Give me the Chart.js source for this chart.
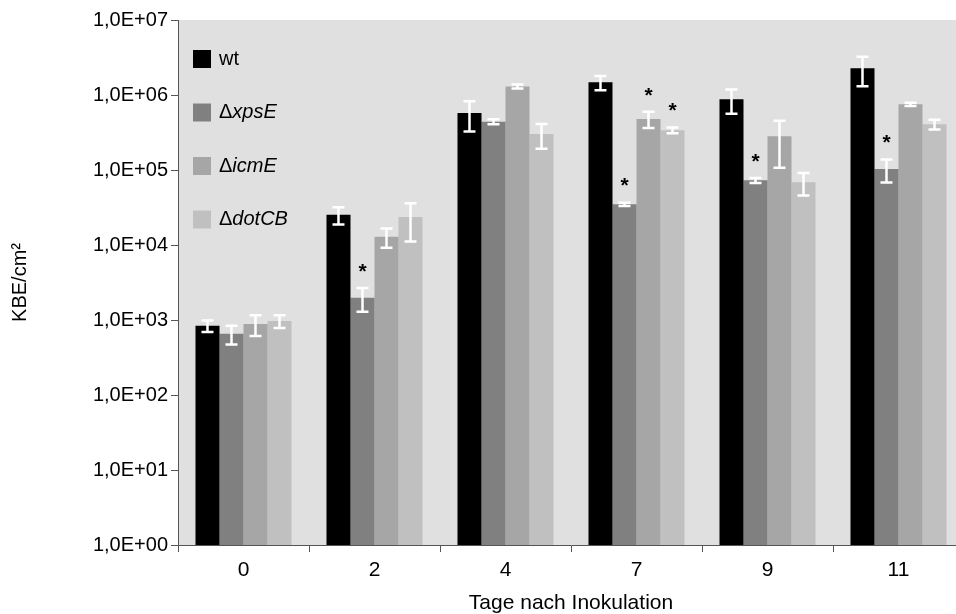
<!DOCTYPE html>
<html>
<head>
<meta charset="utf-8">
<script src="https://cdn.jsdelivr.net/npm/chart.js@4"></script>
<style>
  html, body { margin: 0; padding: 0; background: #fff; overflow: hidden; }
  #wrap { width: 956px; height: 614px; overflow: hidden; }
</style>
</head>
<body>
<div id="wrap"><canvas id="chart" width="968" height="614"></canvas></div>
<script>
// Days after inoculation
const days = ["0", "2", "4", "7", "9", "11"];
const seriesNames = ["wt", "ΔxpsE", "ΔicmE", "ΔdotCB"];
const seriesColors = ["#000000", "#808080", "#a6a6a6", "#c0c0c0"];

// Mean KBE/cm² per series
const wt    = [840, 25350, 575000, 1476000, 875000, 2270000];
const xpsE  = [656, 1983, 440000, 34870, 72800, 103000];
const icmE  = [885, 12900, 1300000, 479000, 281000, 752000];
const dotCB = [970, 23600, 302000, 338000, 68500, 407000];

// Standard deviations
const wtSd    = [147, 6530, 250000, 315000, 312000, 957000];
const xpsESd  = [185, 695, 33500, 1850, 5600, 34700];
const icmESd  = [275, 3685, 80000, 117000, 174000, 39000];
const dotCBSd = [190, 12500, 110000, 30000, 22800, 59500];

// Significance markers (*)
const wtSig    = [false, false, false, false, false, false];
const xpsESig  = [false, true, false, true, true, true];
const icmESig  = [false, false, false, true, false, false];
const dotCBSig = [false, false, false, true, false, false];

const yTicks = [1, 10, 100, 1000, 10000, 100000, 1000000, 10000000];

const means = [wt, xpsE, icmE, dotCB];
const sds = [wtSd, xpsESd, icmESd, dotCBSd];
const sigs = [wtSig, xpsESig, icmESig, dotCBSig];

const FONT = "'Liberation Sans', Arial, sans-serif";

const plotBg = {
  id: "plotBg",
  beforeDraw(chart) {
    const { ctx, chartArea: a } = chart;
    ctx.save();
    ctx.fillStyle = "#e0e0e0";
    ctx.fillRect(a.left, a.top, a.right - a.left, a.bottom - a.top);
    ctx.restore();
  }
};

const errorBars = {
  id: "errorBars",
  afterDatasetsDraw(chart) {
    const { ctx } = chart;
    const y = chart.scales.y;
    ctx.save();
    means.forEach((m, i) => {
      const meta = chart.getDatasetMeta(i);
      meta.data.forEach((bar, j) => {
        const top = y.getPixelForValue(m[j] + sds[i][j]);
        const bot = y.getPixelForValue(Math.max(m[j] - sds[i][j], 1));
        ctx.strokeStyle = "#ffffff";
        ctx.lineWidth = 2.5;
        ctx.beginPath();
        ctx.moveTo(bar.x, top); ctx.lineTo(bar.x, bot);
        ctx.moveTo(bar.x - 6, top); ctx.lineTo(bar.x + 6, top);
        ctx.moveTo(bar.x - 6, bot); ctx.lineTo(bar.x + 6, bot);
        ctx.stroke();
        if (sigs[i][j]) {
          ctx.fillStyle = "#000";
          ctx.font = "bold 21px " + FONT;
          ctx.textAlign = "center";
          ctx.textBaseline = "middle";
          ctx.fillText("*", bar.x, top - 16);
        }
      });
    });
    ctx.restore();
  }
};

const insideLegend = {
  id: "insideLegend",
  afterDraw(chart) {
    const { ctx, chartArea: a } = chart;
    ctx.save();
    ctx.textBaseline = "middle";
    ctx.textAlign = "left";
    seriesNames.forEach((name, i) => {
      const cy = a.top + 39 + i * 53.5;
      ctx.fillStyle = seriesColors[i];
      ctx.fillRect(a.left + 15, cy - 9, 18, 18);
      ctx.fillStyle = "#000";
      let x = a.left + 41;
      if (name.startsWith("Δ")) {
        ctx.font = "20px " + FONT;
        ctx.fillText("Δ", x, cy);
        x += ctx.measureText("Δ").width;
        ctx.font = "italic 20px " + FONT;
        ctx.fillText(name.slice(1), x, cy);
      } else {
        ctx.font = "20px " + FONT;
        ctx.fillText(name, x, cy);
      }
    });
    ctx.restore();
  }
};

new Chart(document.getElementById("chart"), {
  type: "bar",
  data: {
    labels: days,
    datasets: means.map((m, i) => ({
      label: seriesNames[i],
      data: m,
      backgroundColor: seriesColors[i],
      borderWidth: 0,
      categoryPercentage: 0.733,
      barPercentage: 1.0
    }))
  },
  options: {
    responsive: false,
    animation: false,
    layout: { padding: { top: 20, left: 0, right: 4, bottom: 0 } },
    plugins: { legend: { display: false }, tooltip: { enabled: false } },
    scales: {
      x: {
        grid: { drawOnChartArea: false, tickLength: 7, color: "#555", offset: true },
        border: { color: "#555", width: 1 },
        ticks: { color: "#000", font: { family: FONT, size: 21 }, padding: 6 },
        title: {
          display: true, text: "Tage nach Inokulation", color: "#000",
          font: { family: FONT, size: 21, lineHeight: 1 }, padding: { top: 0, bottom: 0 }
        },
        afterFit(s) { s.height = 69; }
      },
      y: {
        type: "logarithmic",
        min: 1,
        max: 10000000,
        grid: { drawOnChartArea: false, tickLength: 7, color: "#555" },
        border: { color: "#555", width: 1 },
        afterBuildTicks(s) { s.ticks = yTicks.map(v => ({ value: v })); },
        ticks: {
          color: "#000",
          font: { family: FONT, size: 20 },
          padding: 3,
          callback: v => "1,0E+" + String(Math.round(Math.log10(v))).padStart(2, "0")
        },
        title: {
          display: true, text: "KBE/cm²", color: "#000",
          font: { family: FONT, size: 20, lineHeight: 1 }, padding: { top: 10, bottom: 0 }
        },
        afterFit(s) { s.width = 178; }
      }
    }
  },
  plugins: [plotBg, errorBars, insideLegend]
});
</script>
</body>
</html>
